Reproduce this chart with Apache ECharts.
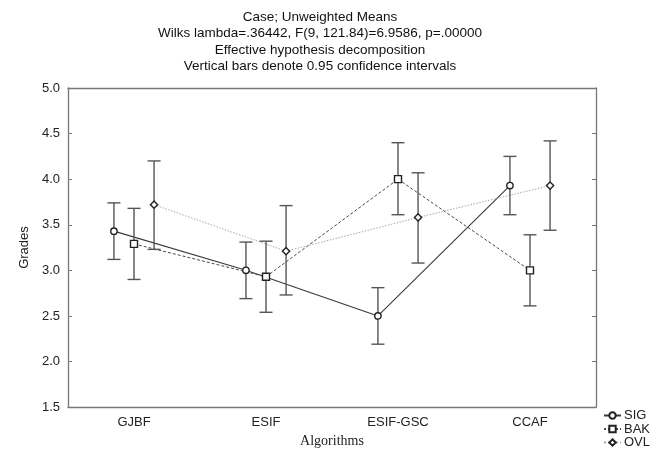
<!DOCTYPE html>
<html>
<head>
<meta charset="UTF-8">
<title>Case; Unweighted Means</title>
<script src="https://cdn.jsdelivr.net/npm/echarts@6/dist/echarts.min.js"></script>
<style>
  html, body { margin: 0; padding: 0; background: #fff; }
  #chart { width: 668px; height: 453px; }
</style>
</head>
<body>
<div id="chart"></div>
<script>
// categories on the x axis
var algorithms = ['GJBF', 'ESIF', 'ESIF-GSC', 'CCAF'];

// means and 0.95 confidence limits
var sigMean = [3.43, 3.00, 2.50, 3.93];
var sigLow  = [3.12, 2.69, 2.19, 3.61];
var sigHigh = [3.74, 3.31, 2.81, 4.25];

var bakMean = [3.29, 2.93, 4.00, 3.00];
var bakLow  = [2.90, 2.54, 3.61, 2.61];
var bakHigh = [3.68, 3.32, 4.40, 3.39];

var ovlMean = [3.72, 3.21, 3.58, 3.93];
var ovlLow  = [3.23, 2.73, 3.08, 3.44];
var ovlHigh = [4.20, 3.71, 4.07, 4.42];

var groups = [
  { name: 'SIG', mean: sigMean, low: sigLow, high: sigHigh, shift: -1, symbol: 'circle',  line: '#3a3a3a', dash: 'solid',  lw: 1.1 },
  { name: 'BAK', mean: bakMean, low: bakLow, high: bakHigh, shift: 0,  symbol: 'rect',    line: '#4a4a4a', dash: [3, 2],   lw: 1 },
  { name: 'OVL', mean: ovlMean, low: ovlLow, high: ovlHigh, shift: 1,  symbol: 'diamond', line: '#a8a8a8', dash: [1.5, 1.5], lw: 1 }
];

var chart = echarts.init(document.getElementById('chart'));

function markerShape(kind, x, y) {
  var st = { fill: '#fff', stroke: '#222', lineWidth: 1.4 };
  if (kind === 'circle') {
    return { type: 'circle', shape: { cx: x, cy: y, r: 3.2 }, style: st, z2: 10 };
  }
  if (kind === 'rect') {
    return { type: 'rect', shape: { x: x - 3.5, y: y - 3.5, width: 7, height: 7 }, style: st, z2: 10 };
  }
  return { type: 'polygon', shape: { points: [[x, y - 3.6], [x + 3.6, y], [x, y + 3.6], [x - 3.6, y]] }, style: st, z2: 10 };
}

function makeRender(g) {
  return function (params, api) {
    var i = api.value(0);
    var band = api.size([1, 0])[0];
    var dx = g.shift * band * 0.152;
    var p = api.coord([i, api.value(1)]);
    var lo = api.coord([i, api.value(2)]);
    var hi = api.coord([i, api.value(3)]);
    var x = p[0] + dx;
    var kids = [];
    if (i < g.mean.length - 1) {
      var q = api.coord([i + 1, g.mean[i + 1]]);
      kids.push({
        type: 'line',
        shape: { x1: x, y1: p[1], x2: q[0] + dx, y2: q[1] },
        style: { stroke: g.line, lineWidth: g.lw, lineDash: g.dash === 'solid' ? null : g.dash },
        z2: 1
      });
    }
    var cap = 6.5;
    var eb = { stroke: '#555', lineWidth: 1.4 };
    kids.push({ type: 'line', shape: { x1: x, y1: lo[1], x2: x, y2: hi[1] }, style: eb, z2: 5 });
    kids.push({ type: 'line', shape: { x1: x - cap, y1: hi[1], x2: x + cap, y2: hi[1] }, style: eb, z2: 5 });
    kids.push({ type: 'line', shape: { x1: x - cap, y1: lo[1], x2: x + cap, y2: lo[1] }, style: eb, z2: 5 });
    kids.push(markerShape(g.symbol, x, p[1]));
    return { type: 'group', children: kids };
  };
}

var series = [];
// empty line series, only so the legend shows line + marker icons
groups.forEach(function (g) {
  series.push({
    name: g.name,
    type: 'line',
    data: [],
    symbol: g.symbol,
    symbolSize: 6,
    itemStyle: { color: '#fff', borderColor: '#222', borderWidth: 1.2 },
    lineStyle: { color: g.line, width: 1, type: g.dash === 'solid' ? 'solid' : 'dotted' }
  });
});
groups.forEach(function (g) {
  series.push({
    type: 'custom',
    renderItem: makeRender(g),
    encode: { x: 0, y: 1 },
    data: algorithms.map(function (a, i) { return [i, g.mean[i], g.low[i], g.high[i]]; }),
    silent: true,
    z: 3
  });
});

var tickTxt = { color: '#222', fontSize: 13, fontFamily: 'Liberation Sans, Arial, sans-serif' };

chart.setOption({
  backgroundColor: '#fff',
  animation: false,
  title: {
    text: 'Case; Unweighted Means\nWilks lambda=.36442, F(9, 121.84)=6.9586, p=.00000\nEffective hypothesis decomposition\nVertical bars denote 0.95 confidence intervals',
    left: 320,
    top: 9,
    textAlign: 'center',
    padding: 0,
    textStyle: { fontSize: 13.5, fontWeight: 'normal', color: '#111', lineHeight: 16.4, fontFamily: 'Liberation Sans, Arial, sans-serif' }
  },
  legend: {
    orient: 'vertical',
    left: 603,
    top: 409,
    height: 44,
    padding: 0,
    itemGap: 0.5,
    itemWidth: 17,
    itemHeight: 8,
    textStyle: { fontSize: 13, lineHeight: 12, color: '#222', fontFamily: 'Liberation Sans, Arial, sans-serif', padding: [0, 0, 0, -2] },
    data: ['SIG', 'BAK', 'OVL']
  },
  grid: { left: 68, right: 72, top: 88, bottom: 45 },
  xAxis: [{
    type: 'category',
    data: algorithms,
    boundaryGap: true,
    name: 'Algorithms',
    nameLocation: 'middle',
    nameGap: 24,
    nameTextStyle: { fontSize: 14, color: '#222', fontFamily: 'Liberation Serif, Times New Roman, serif' },
    axisLine: { lineStyle: { color: '#777', width: 1.3 } },
    axisTick: { inside: false, alignWithLabel: true, length: 3, lineStyle: { color: '#777' } },
    axisLabel: Object.assign({ margin: 9 }, tickTxt),
    splitLine: { show: false }
  }, {
    type: 'category',
    position: 'top',
    data: algorithms,
    axisLine: { lineStyle: { color: '#777', width: 1.3 } },
    axisTick: { inside: true, alignWithLabel: true, length: 4, lineStyle: { color: '#777' } },
    axisLabel: { show: false }
  }],
  yAxis: [{
    type: 'value',
    min: 1.5,
    max: 5,
    interval: 0.5,
    name: 'Grades',
    nameLocation: 'middle',
    nameGap: 35,
    nameTextStyle: tickTxt,
    axisLine: { show: true, lineStyle: { color: '#777', width: 1.3 } },
    axisTick: { show: true, inside: true, length: 4, lineStyle: { color: '#777' } },
    axisLabel: Object.assign({ margin: 8, formatter: function (v) { return v.toFixed(1); } }, tickTxt),
    splitLine: { show: false }
  }, {
    type: 'value',
    position: 'right',
    min: 1.5,
    max: 5,
    interval: 0.5,
    axisLine: { show: true, lineStyle: { color: '#777', width: 1.3 } },
    axisTick: { show: true, inside: true, length: 4, lineStyle: { color: '#777' } },
    axisLabel: { show: false },
    splitLine: { show: false }
  }],
  series: series
});
</script>
</body>
</html>
